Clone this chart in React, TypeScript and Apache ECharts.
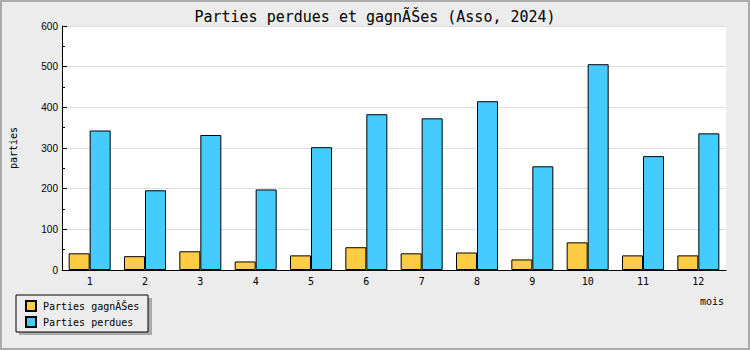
import React, { useEffect, useRef } from "react";
import * as echarts from "echarts";

const months = ["1", "2", "3", "4", "5", "6", "7", "8", "9", "10", "11", "12"];
const wonGames = [41, 34, 46, 21, 36, 56, 41, 43, 26, 68, 36, 36];
const lostGames = [343, 196, 332, 198, 302, 383, 373, 415, 255, 506, 280, 336];
const titleText = "Parties perdues et gagnÃŠes (Asso, 2024)";
const wonLabel = "Parties gagnÃŠes";
const lostLabel = "Parties perdues";
const xName = "mois";
const yName = "parties";

const MONO = "'DejaVu Sans Mono', monospace";

export default function App() {
  const ref = useRef<HTMLDivElement>(null);
  useEffect(() => {
    document.body.style.margin = "0";
    if (!ref.current) return;
    const chart = echarts.init(ref.current, undefined, { renderer: "svg" });
    chart.setOption({
      animation: false,
      backgroundColor: "#ececec",
      title: {
        text: titleText,
        left: "center",
        top: 4,
        textStyle: { fontFamily: MONO, fontSize: 15, fontWeight: "normal", color: "#000" },
      },
      grid: {
        left: 61,
        right: 24,
        top: 26,
        bottom: 80,
        show: true,
        backgroundColor: "#ffffff",
        borderWidth: 0,
      },
      graphic: [
        {
          type: "rect",
          z: 100,
          shape: { x: 1, y: 1, width: 748, height: 348 },
          style: { fill: "none", stroke: "#aaaaaa", lineWidth: 2 },
        },
        {
          type: "rect",
          z: 1,
          shape: { x: 19, y: 298, width: 133, height: 37 },
          style: { fill: "#aaaaaa" },
        },
        {
          type: "rect",
          z: 2,
          shape: { x: 16, y: 295, width: 132, height: 37 },
          style: { fill: "#ececec", stroke: "#000", lineWidth: 1 },
        },
        {
          type: "text",
          z: 3,
          x: 724,
          y: 296,
          style: { text: xName, font: "10px " + MONO, fill: "#000", align: "right" },
        },
      ],
      legend: {
        orient: "vertical",
        left: 25,
        top: 300,
        padding: 0,
        itemWidth: 10,
        itemHeight: 10,
        itemGap: 4,
        icon: "rect",
        z: 10,
        textStyle: { fontFamily: MONO, fontSize: 10, color: "#000", padding: [0, 0, 0, 2] },
        data: [wonLabel, lostLabel],
      },
      xAxis: {
        type: "category",
        data: months,
        axisLine: { lineStyle: { color: "#000", width: 1 } },
        axisTick: { inside: true, length: 5, lineStyle: { color: "#000" } },
        axisLabel: { fontFamily: MONO, fontSize: 10, color: "#000", margin: 6 },
        splitLine: { show: false },
      },
      yAxis: {
        type: "value",
        min: 0,
        max: 600,
        interval: 100,
        name: yName,
        nameLocation: "middle",
        nameGap: 44,
        nameRotate: 90,
        nameTextStyle: { fontFamily: MONO, fontSize: 10, color: "#000" },
        axisLine: { show: true, lineStyle: { color: "#000", width: 1 } },
        axisTick: { show: true, inside: true, length: 5, lineStyle: { color: "#000" } },
        minorTick: { show: true, splitNumber: 2, length: 3, lineStyle: { color: "#000" } },
        axisLabel: { fontFamily: "'Liberation Sans', sans-serif", fontSize: 10, color: "#000", margin: 4 },
        splitLine: { show: true, lineStyle: { color: "#dddddd", width: 1 } },
      },
      series: [
        {
          name: wonLabel,
          type: "bar",
          data: wonGames,
          barWidth: 21,
          barGap: "0%",
          itemStyle: { color: "#ffcc44", borderColor: "#000", borderWidth: 1 },
        },
        {
          name: lostLabel,
          type: "bar",
          data: lostGames,
          barWidth: 21,
          barGap: "0%",
          itemStyle: { color: "#44ccff", borderColor: "#000", borderWidth: 1 },
        },
      ],
    });
    return () => chart.dispose();
  }, []);
  return <div ref={ref} style={{ width: 750, height: 350 }} />;
}
